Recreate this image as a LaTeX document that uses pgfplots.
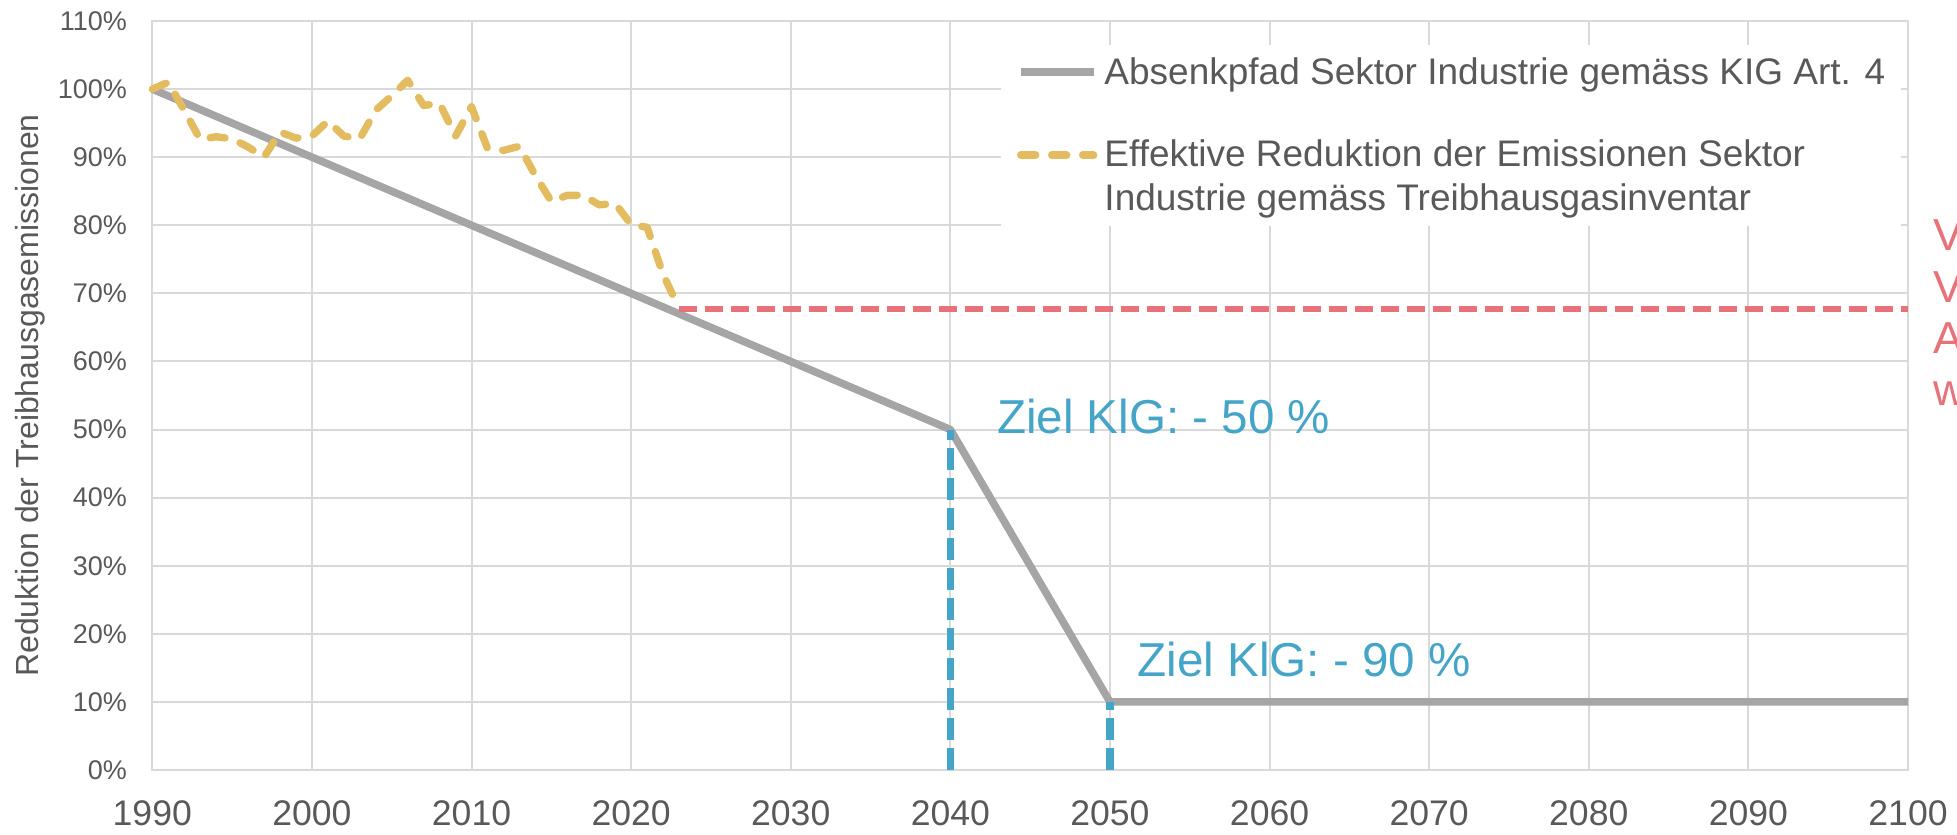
\documentclass[border=0pt]{standalone}
\usepackage{fontspec}
\setmainfont{Liberation Sans}
\usepackage{pgfplots}
\pgfplotsset{compat=1.18}
\definecolor{gridgray}{HTML}{D9D9D9}
\definecolor{txtgray}{HTML}{595959}
\definecolor{pathgray}{HTML}{A5A5A5}
\definecolor{effgold}{HTML}{E3BC5F}
\definecolor{zielblue}{HTML}{44A5C9}
\definecolor{warnred}{HTML}{E8727A}
\begin{document}
\begin{tikzpicture}
\path[use as bounding box] (0,0) rectangle (978.5bp,417.5bp);
\begin{axis}[
  at={(76.15bp,32.5bp)}, anchor=south west,
  scale only axis, width=877.85bp, height=374.5bp,
  xmin=1990, xmax=2100, ymin=0, ymax=110,
  xtick={1990,2000,...,2100}, ytick={0,10,...,110},
  grid=major, major grid style={draw=gridgray, line width=1bp},
  axis line style={draw=gridgray, line width=1bp},
  major tick length=0pt,
  clip=false,
  /pgf/number format/1000 sep={},
  /pgf/number format/assume math mode=true,
  yticklabel={\pgfmathprintnumber{\tick}\%},
  yticklabel style={font=\fontsize{13.5bp}{16bp}\selectfont, text=txtgray, anchor=east, inner sep=0pt, xshift=-12.5bp},
  xticklabel style={font=\fontsize{17.8bp}{20bp}\selectfont, text=txtgray, anchor=north, inner sep=0pt, yshift=-15bp},
  ylabel={Reduktion der Treibhausgasemissionen},
  ylabel style={at={(axis description cs:-0.0694,0.5)}, anchor=center, font=\fontsize{16bp}{19bp}\selectfont, text=txtgray, inner sep=0pt},
  legend style={at={(0.9964,0.968)}, anchor=north east, draw=none, fill=white,
    inner xsep=8bp, inner ysep=6bp, font=\fontsize{18.5bp}{22bp}\selectfont, text=txtgray,
    cells={align=left}, row sep=26.5bp, column sep=3.5bp, nodes={inner sep=0pt}},
  legend cell align=left,
  legend image code/.code={\draw[#1] (0bp,0bp) -- (36.5bp,0bp);},
]
\addplot[pathgray, line width=3.8bp, line join=round] coordinates {
  (1990,100) (2040,50) (2050,10) (2100,10)};
\addlegendentry{Absenkpfad Sektor Industrie gemäss KIG Art. 4}
\addplot[effgold, line width=3.7bp, line cap=round, line join=round, dash pattern=on 7.5bp off 8bp,
  legend image post style={yshift=11bp}] coordinates {
  (1990,100.0) (1991,101.0) (1992,96.9) (1993,92.6) (1994,93.0) (1995,92.7)
  (1996,91.5) (1997,90.0) (1998,93.7) (1999,92.8) (2000,93.1) (2001,95.3)
  (2002,93.1) (2003,92.7) (2004,96.9) (2005,99.0) (2006,101.3) (2007,97.6)
  (2008,97.9) (2009,93.1) (2010,97.4) (2011,91.3) (2012,91.0) (2013,91.6)
  (2014,87.3) (2015,83.5) (2016,84.4) (2017,84.4) (2018,83.0) (2019,83.2)
  (2020,80.1) (2021,79.7) (2022,72.8) (2023,67.8)};
\addlegendentry{Effektive Reduktion der Emissionen Sektor\\Industrie gemäss Treibhausgasinventar}
\addplot[forget plot, warnred, line width=2.9bp, dash pattern=on 9bp off 4bp] coordinates {
  (2023,67.7) (2100,67.7)};
\addplot[forget plot, zielblue, line width=3.8bp, dash pattern=on 11bp off 4bp] coordinates {
  (2040,0) (2040,50)};
\addplot[forget plot, zielblue, line width=3.8bp, dash pattern=on 11bp off 4bp] coordinates {
  (2050,0) (2050,10)};
\node[anchor=west, inner sep=0pt, text=zielblue, font=\fontsize{23.8bp}{28bp}\selectfont] at (axis cs:2042.9,51.9) {Ziel KlG: - 50 \%};
\node[anchor=west, inner sep=0pt, text=zielblue, font=\fontsize{23.8bp}{28bp}\selectfont] at (axis cs:2051.7,16.3) {Ziel KlG: - 90 \%};
\node[anchor=north west, inner sep=0pt, align=left, text=warnred, font=\fontsize{22.4bp}{25.75bp}\selectfont] at (axis cs:2101.6,81.06) {Verfehlung\\Vorgabe\\Absenkpfad\\wird verfehlt};
\end{axis}
\end{tikzpicture}
\end{document}
